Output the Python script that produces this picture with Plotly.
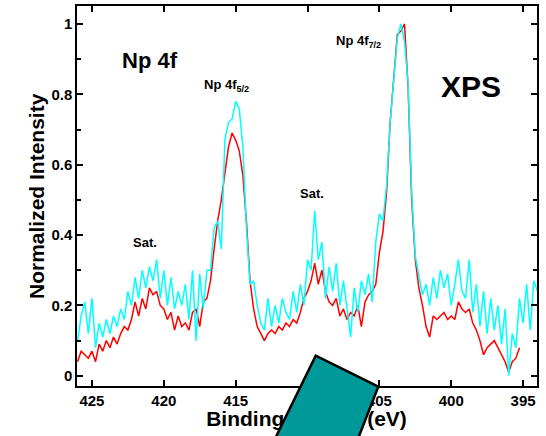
import numpy as np
import plotly.graph_objects as go

# Binding-energy grid (eV), 0.25 eV steps, high to low
energy = np.round(np.arange(426.0, 393.99, -0.25), 2)

# Normalized Np 4f intensities for the two spectra
red_intensity = [
    0.04, 0.07, 0.06, 0.05, 0.07, 0.04, 0.09, 0.07, 0.10, 0.08,
    0.11, 0.09, 0.12, 0.14, 0.13, 0.16, 0.21, 0.17, 0.22, 0.19,
    0.25, 0.23, 0.24, 0.20, 0.19, 0.16, 0.18, 0.13, 0.17, 0.14,
    0.15, 0.13, 0.18, 0.19, 0.14, 0.21, 0.22, 0.27, 0.36, 0.44,
    0.50, 0.58, 0.65, 0.69, 0.67, 0.64, 0.57, 0.44, 0.27, 0.19,
    0.14, 0.12, 0.10, 0.12, 0.13, 0.12, 0.14, 0.13, 0.15, 0.14,
    0.16, 0.15, 0.18, 0.22, 0.24, 0.27, 0.32, 0.26, 0.30, 0.24,
    0.21, 0.20, 0.22, 0.17, 0.19, 0.16, 0.18, 0.17, 0.20, 0.14,
    0.21, 0.23, 0.24, 0.26, 0.35, 0.41, 0.52, 0.72, 0.84, 0.97,
    0.98, 1.00, 0.82, 0.50, 0.33, 0.25, 0.20, 0.14, 0.11, 0.17,
    0.16, 0.17, 0.18, 0.16, 0.17, 0.16, 0.21, 0.19, 0.18, 0.19,
    0.15, 0.13, 0.10, 0.06, 0.08, 0.09, 0.10, 0.08, 0.06, 0.04,
    0.01, 0.04, 0.05, 0.08,
]

cyan_intensity = [
    0.10, 0.17, 0.21, 0.12, 0.22, 0.08, 0.15, 0.11, 0.16, 0.12,
    0.17, 0.14, 0.19, 0.16, 0.24, 0.20, 0.28, 0.22, 0.30, 0.25,
    0.31, 0.27, 0.33, 0.22, 0.30, 0.20, 0.28, 0.19, 0.24, 0.20,
    0.26, 0.16, 0.30, 0.10, 0.29, 0.19, 0.30, 0.30, 0.42, 0.44,
    0.36, 0.67, 0.72, 0.73, 0.78, 0.76, 0.65, 0.42, 0.26, 0.27,
    0.20, 0.15, 0.13, 0.22, 0.14, 0.20, 0.15, 0.22, 0.18, 0.16,
    0.24, 0.18, 0.26, 0.20, 0.33, 0.30, 0.47, 0.33, 0.38, 0.22,
    0.31, 0.24, 0.32, 0.20, 0.27, 0.19, 0.11, 0.25, 0.18, 0.27,
    0.23, 0.29, 0.21, 0.38, 0.46, 0.44, 0.54, 0.72, 0.85, 0.96,
    1.00, 0.95, 0.83, 0.52, 0.34, 0.28, 0.23, 0.26, 0.20, 0.28,
    0.22, 0.30, 0.25, 0.29, 0.20, 0.26, 0.33, 0.24, 0.22, 0.33,
    0.18, 0.26, 0.14, 0.24, 0.12, 0.22, 0.13, 0.20, 0.09, 0.19,
    0.00, 0.12, 0.08, 0.22, 0.15, 0.26, 0.13, 0.27, 0.24,
]

x_ticks = [425, 420, 415, 410, 405, 400, 395]

FONT = "Liberation Sans, Arial, sans-serif"
W, H = 546, 436

fig = go.Figure()

fig.add_trace(go.Scatter(
    x=energy[:len(red_intensity)], y=red_intensity, mode="lines",
    line=dict(color="#ff0000", width=1.5), hoverinfo="skip",
))
fig.add_trace(go.Scatter(
    x=energy[:len(cyan_intensity)], y=cyan_intensity, mode="lines",
    line=dict(color="#00ffff", width=1.5), hoverinfo="skip",
))

# x-axis title lives in a strip subplot so the overlay shape can sit above it
fig.add_trace(go.Scatter(
    x=[306.5], y=[15], mode="text", text=["Binding Energy (eV)"],
    textfont=dict(family=FONT, size=21, color="black", weight="bold"),
    xaxis="x2", yaxis="y2", cliponaxis=False, hoverinfo="skip",
))

axis_common = dict(
    showline=True, linecolor="black", linewidth=1.5, mirror="allticks",
    ticks="inside", tickcolor="black", tickwidth=1.5,
    showgrid=False, zeroline=False,
    tickfont=dict(family=FONT, size=15, color="black", weight="bold"),
)

fig.update_layout(
    width=W, height=H,
    margin=dict(l=0, r=0, t=0, b=0),
    paper_bgcolor="white", plot_bgcolor="white",
    showlegend=False,
    xaxis=dict(
        domain=[77 / W, 537 / W], range=[426.04, 394.03],
        tickmode="array", tickvals=x_ticks, ticklen=6,
        anchor="y", **axis_common,
    ),
    yaxis=dict(
        domain=[(H - 386) / H, (H - 6) / H], range=[-0.029, 1.051],
        tick0=0, dtick=0.2, ticklen=6,
        minor=dict(dtick=0.1, tick0=0, ticks="inside", ticklen=4,
                   tickwidth=1.5, tickcolor="black"),
        anchor="x", **axis_common,
    ),
    xaxis2=dict(domain=[0, 1], range=[0, W], anchor="y2", visible=False),
    yaxis2=dict(domain=[0, 0.11], range=[0, 0.11 * H], anchor="x2", visible=False),
)

label_font = dict(family=FONT, color="black", weight="bold")
annotations = [
    dict(x=420.97, y=0.895, text="Np 4f", size=22),
    dict(x=415.62, y=0.824, text="Np 4f<sub>5/2</sub>", size=13),
    dict(x=406.46, y=0.949, text="Np 4f<sub>7/2</sub>", size=13),
    dict(x=398.61, y=0.821, text="XPS", size=30),
    dict(x=421.32, y=0.378, text="Sat.", size=13),
    dict(x=409.72, y=0.517, text="Sat.", size=13),
]
for a in annotations:
    fig.add_annotation(
        x=a["x"], y=a["y"], xref="x", yref="y", text=a["text"],
        showarrow=False, xanchor="center", yanchor="middle",
        font=dict(size=a["size"], **label_font),
    )

fig.add_annotation(
    x=36 / W, y=1 - 196 / H, xref="paper", yref="paper",
    text="Normalized Intensity", textangle=-90, showarrow=False,
    xanchor="center", yanchor="middle",
    font=dict(size=21, **label_font),
)

# teal block overlapping the lower axis area
fig.add_shape(
    type="path", xref="paper", yref="paper", layer="above",
    path="M 0.50256 -0.00917 L 0.57821 0.18417 L 0.69286 0.11307 L 0.65476 -0.00917 Z",
    fillcolor="#00999a", line=dict(color="black", width=2.5),
)

fig.write_html("out.html")
